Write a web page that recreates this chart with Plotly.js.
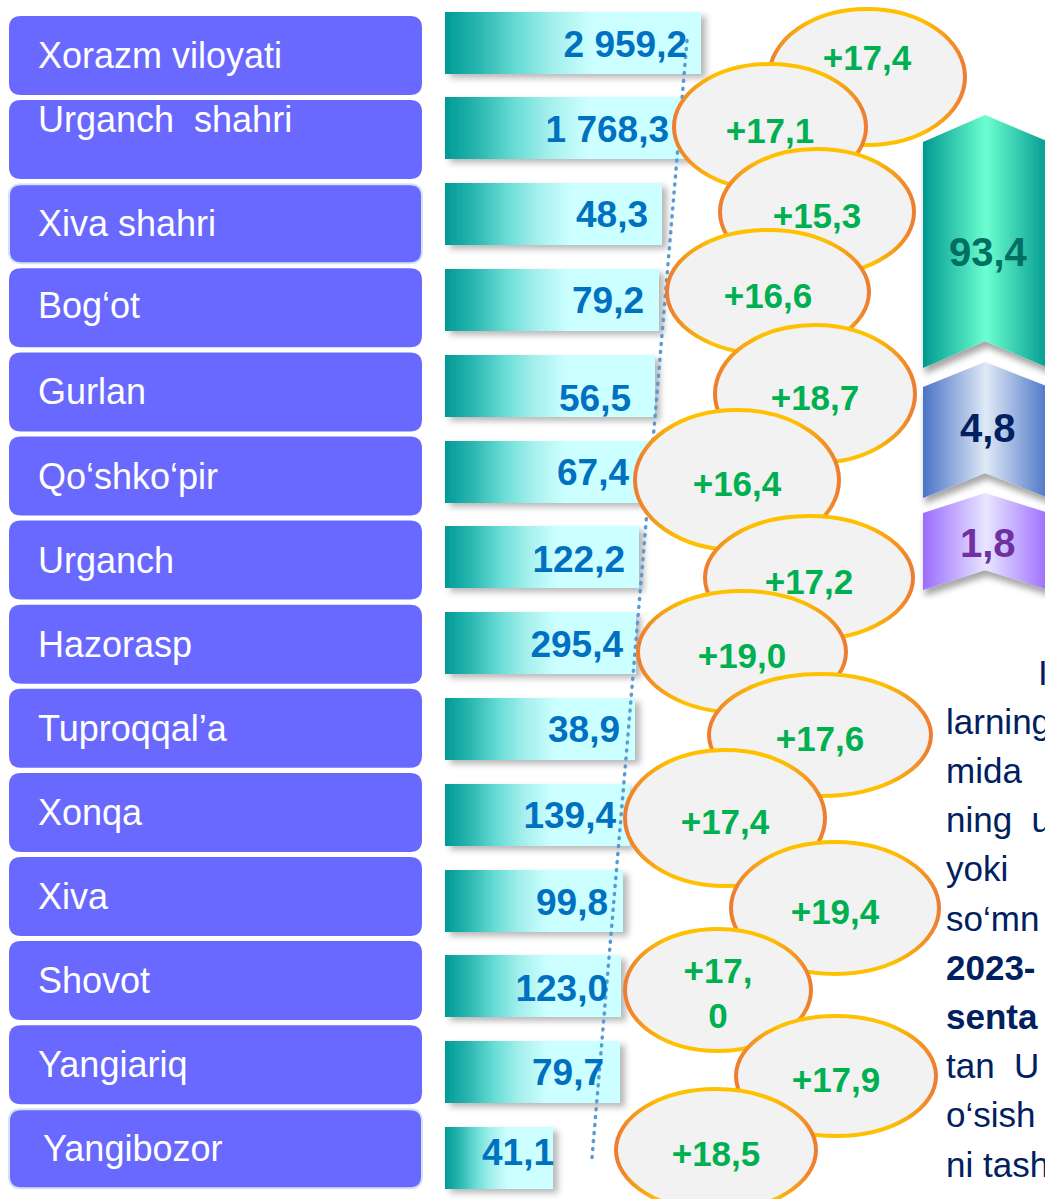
<!DOCTYPE html>
<html>
<head>
<meta charset="utf-8">
<script src="https://cdn.plot.ly/plotly-3.0.1.min.js"></script>
<style>html,body{margin:0;padding:0;background:#fff;overflow:hidden}</style>
</head>
<body>
<svg width="0" height="0" style="position:absolute">
  <defs>
    <linearGradient id="barGrad" x1="0" y1="0" x2="1" y2="0">
      <stop offset="0" stop-color="#009A96"/>
      <stop offset="0.14" stop-color="#2CB8B1"/>
      <stop offset="0.28" stop-color="#66DCD5"/>
      <stop offset="0.42" stop-color="#A2EFEC"/>
      <stop offset="0.58" stop-color="#CCFFFF"/>
      <stop offset="1" stop-color="#CCFFFF"/>
    </linearGradient>
    <linearGradient id="chev0" x1="0" y1="0" x2="1" y2="0">
      <stop offset="0" stop-color="#009990"/>
      <stop offset="0.5" stop-color="#6CFFD0"/>
      <stop offset="1" stop-color="#009990"/>
    </linearGradient>
    <linearGradient id="chev1" x1="0" y1="0" x2="1" y2="0">
      <stop offset="0" stop-color="#4A74C6"/>
      <stop offset="0.5" stop-color="#DFE9F6"/>
      <stop offset="1" stop-color="#4A74C6"/>
    </linearGradient>
    <linearGradient id="chev2" x1="0" y1="0" x2="1" y2="0">
      <stop offset="0" stop-color="#9C6CFF"/>
      <stop offset="0.5" stop-color="#E8E6FF"/>
      <stop offset="1" stop-color="#9C6CFF"/>
    </linearGradient>
    <linearGradient id="ellStroke" x1="0" y1="0" x2="1" y2="0">
      <stop offset="0" stop-color="#ED7D31"/>
      <stop offset="0.22" stop-color="#FFC000"/>
      <stop offset="0.78" stop-color="#FFC000"/>
      <stop offset="1" stop-color="#ED7D31"/>
    </linearGradient>
    <filter id="barShadow" x="-10%" y="-20%" width="130%" height="160%">
      <feDropShadow dx="5" dy="4" stdDeviation="3" flood-color="#000" flood-opacity="0.28"/>
    </filter>
    <filter id="chevShadow" x="-10%" y="-10%" width="130%" height="140%">
      <feDropShadow dx="2" dy="6" stdDeviation="3" flood-color="#000" flood-opacity="0.35"/>
    </filter>
  </defs>
</svg>
<div id="chart"></div>
<script>
// ---------------- DATA ----------------
const regions = ["Xorazm viloyati", "Urganch\u00a0 shahri", "Xiva shahri", "Bog\u2018ot", "Gurlan",
  "Qo\u2018shko\u2018pir", "Urganch", "Hazorasp", "Tuproqqal\u2019a", "Xonqa", "Xiva", "Shovot",
  "Yangiariq", "Yangibozor"];
const values = [2959.2, 1768.3, 48.3, 79.2, 56.5, 67.4, 122.2, 295.4, 38.9, 139.4, 99.8, 123.0, 79.7, 41.1];
const growth = [17.4, 17.1, 15.3, 16.6, 18.7, 16.4, 17.2, 19.0, 17.6, 17.4, 19.4, 17.0, 17.9, 18.5];
const shares = [93.4, 4.8, 1.8];
const paragraphLines = ["I", "larning", "mida", "ning\u00a0\u00a0u", "yoki", "so\u2018mn",
  "<b>2023-</b>", "<b>senta</b>", "tan\u00a0\u00a0U", "o\u2018sish", "ni tash"];

// ---------------- GEOMETRY (decorative, not to scale) ----------------
const FONT = "Liberation Sans, Arial, sans-serif";
const BOX_X0 = 9, BOX_X1 = 422, BOX_TOP0 = 16, BOX_PITCH = 84.1, BOX_H = 79, BOX_R = 12;
const boxTextDy = [0, -20, 0, -2, 0, 0, 0, 0, 0, 0, 0, 0, 0, 0];
const boxTextDx = [0, 0, 0, 0, 0, 0, 0, 0, 0, 0, 0, 0, 0, 5];
const BAR_BASE = 445, BAR_C0 = 42.5, BAR_PITCH = 85.8, BAR_W = 62;
const barLen = [256, 245, 217, 214, 210, 205, 194, 191, 190, 185, 178, 176, 175, 108];
const valPad = [17, 24, 17, 18, 27, 24, 17, 16, 18, 17, 18, 16, 19, 2];
const valDy = [5, 4, 4, 4, 16, 4, 5, 5, 4, 4, 5, 5, 4, -2];
const ellCx = [867, 770, 817, 768, 815, 737, 809, 742, 820, 725, 835, 718, 836, 716];
const ellCy = [77, 127, 212, 292, 394, 480, 578, 652, 735, 818, 908, 990, 1076, 1150];
const ellRx = [98, 96, 97, 101, 100, 102, 104, 104, 111, 100, 104, 93, 100, 100];
const ellRy = [68, 63, 63, 62, 69, 70, 62, 61, 61, 68, 66, 61, 60, 61];
const CHEV_X0 = 923, CHEV_XM = 985, CHEV_X1 = 1049;
const chevPeak = [115, 362, 493];
const chevBottom = [368, 498, 590];
const chevDepth = [27, 25, 20];
const chevTextY = [252, 428, 543];
const chevTextColor = ["#006F62", "#002060", "#7030A0"];
const PARA_X = 944, PARA_Y0 = 672, PARA_PITCH = 49.2;

// ---------------- HELPERS ----------------
const fmtVal = v => {
  const [i, d] = v.toFixed(1).split('.');
  return i.replace(/\B(?=(\d{3})+(?!\d))/g, ' ') + ',' + d;
};
const fmtGrowth = (v, wrap) => {
  const s = '+' + v.toFixed(1).replace('.', ',');
  return wrap ? s.replace(',', ',<br>') : s;
};
const roundRect = (x0, y0, x1, y1, r) =>
  `M${x0 + r},${y0} L${x1 - r},${y0} Q${x1},${y0} ${x1},${y0 + r} L${x1},${y1 - r} Q${x1},${y1} ${x1 - r},${y1} ` +
  `L${x0 + r},${y1} Q${x0},${y1} ${x0},${y1 - r} L${x0},${y0 + r} Q${x0},${y0} ${x0 + r},${y0} Z`;

const barY = values.map((v, i) => BAR_C0 + BAR_PITCH * i);

// ---------------- TRACES ----------------
const bars = {
  type: 'bar', orientation: 'h',
  y: barY, x: barLen, base: BAR_BASE, width: BAR_W,
  marker: {color: '#CCFFFF', line: {width: 0}},
  hoverinfo: 'skip'
};
const trend = {
  type: 'scatter', mode: 'lines',
  x: [BAR_BASE + barLen[0] - 14, BAR_BASE + barLen[13] + 39],
  y: [barY[0] - 2, barY[13]],
  line: {color: '#5B9BD5', width: 3.5, dash: '1px,7px'},
  hoverinfo: 'skip'
};
const valueText = {
  type: 'scatter', mode: 'text',
  x: barLen.map((l, i) => BAR_BASE + l - valPad[i] + 3),
  y: barY.map((y, i) => y + valDy[i]),
  text: values.map(fmtVal),
  textposition: 'middle left',
  textfont: {family: FONT, size: 37, color: '#0070C0', weight: 'bold'},
  hoverinfo: 'skip'
};

// ---------------- SHAPES ----------------
const shapes = [];
regions.forEach((r, i) => {
  const y0 = BOX_TOP0 + BOX_PITCH * i;
  const glow = (i === 2 || i === 13);
  shapes.push({
    type: 'path', xref: 'x', yref: 'y', layer: 'below',
    path: roundRect(BOX_X0, y0, BOX_X1, y0 + BOX_H, BOX_R),
    fillcolor: '#6969FF',
    line: {width: glow ? 2 : 0, color: '#D3E3F5'}
  });
});
shares.forEach((s, k) => {
  const p = chevPeak[k], b = chevBottom[k], d = chevDepth[k];
  shapes.push({
    type: 'path', xref: 'x', yref: 'y', layer: 'above',
    path: `M${CHEV_X0},${p + d} L${CHEV_XM},${p} L${CHEV_X1},${p + d} L${CHEV_X1},${b} L${CHEV_XM},${b - d} L${CHEV_X0},${b} Z`,
    fillcolor: '#888', line: {width: 0}
  });
});
growth.forEach((g, i) => {
  shapes.push({
    type: 'circle', xref: 'x', yref: 'y', layer: 'above',
    x0: ellCx[i] - ellRx[i], x1: ellCx[i] + ellRx[i],
    y0: ellCy[i] - ellRy[i], y1: ellCy[i] + ellRy[i],
    fillcolor: '#F2F2F2', line: {color: '#FFC000', width: 4},
    label: {
      text: '<b>' + fmtGrowth(g, i === 11) + '</b>',
      textposition: 'middle center',
      yanchor: i === 0 ? 'bottom' : 'middle',
      font: {family: FONT, size: 35, color: '#00B050'}
    }
  });
});

// ---------------- ANNOTATIONS ----------------
const annotations = [];
regions.forEach((r, i) => {
  annotations.push({
    x: 36 + boxTextDx[i], y: BOX_TOP0 + BOX_PITCH * i + BOX_H / 2 + boxTextDy[i],
    xref: 'x', yref: 'y', xanchor: 'left', yanchor: 'middle', showarrow: false,
    text: r, font: {family: FONT, size: 36, color: '#FFFFFF'}
  });
});
shares.forEach((s, k) => {
  annotations.push({
    x: CHEV_XM + 3, y: chevTextY[k], xref: 'x', yref: 'y', xanchor: 'center', yanchor: 'middle',
    showarrow: false, text: '<b>' + s.toFixed(1).replace('.', ',') + '</b>',
    font: {family: FONT, size: 40, color: chevTextColor[k]}
  });
});
paragraphLines.forEach((t, j) => {
  annotations.push({
    x: j === 0 ? 1036 : PARA_X, y: PARA_Y0 + PARA_PITCH * j, xref: 'x', yref: 'y',
    xanchor: 'left', yanchor: 'middle', showarrow: false, text: t,
    font: {family: FONT, size: 35, color: '#002060'}
  });
});

const layout = {
  width: 1045, height: 1199,
  margin: {l: 0, r: 0, t: 0, b: 0, pad: 0},
  paper_bgcolor: '#FFFFFF', plot_bgcolor: 'rgba(0,0,0,0)',
  xaxis: {range: [0, 1045], visible: false, fixedrange: true},
  yaxis: {range: [1199, 0], visible: false, fixedrange: true},
  showlegend: false, bargap: 0,
  shapes: shapes, annotations: annotations
};

Plotly.newPlot('chart', [bars, trend, valueText], layout, {staticPlot: true, displayModeBar: false})
.then(gd => {
  gd.querySelectorAll('.barlayer .point path').forEach(p => {
    p.style.fill = 'url(#barGrad)';
    p.setAttribute('filter', 'url(#barShadow)');
  });
  gd.querySelectorAll('.scatterlayer .js-line').forEach(p => {
    p.style.strokeLinecap = 'round';
  });
  const nBox = regions.length, nChev = shares.length;
  gd.querySelectorAll('.shapelayer [data-index]').forEach(el => {
    const idx = +el.getAttribute('data-index');
    const p = el.tagName.toLowerCase() === 'path' ? el : el.querySelector('path');
    if (!p) return;
    if (idx >= nBox && idx < nBox + nChev) {
      p.style.fill = 'url(#chev' + (idx - nBox) + ')';
      p.setAttribute('filter', 'url(#chevShadow)');
    } else if (idx >= nBox + nChev) {
      p.style.stroke = 'url(#ellStroke)';
    }
  });
});
</script>
</body>
</html>
